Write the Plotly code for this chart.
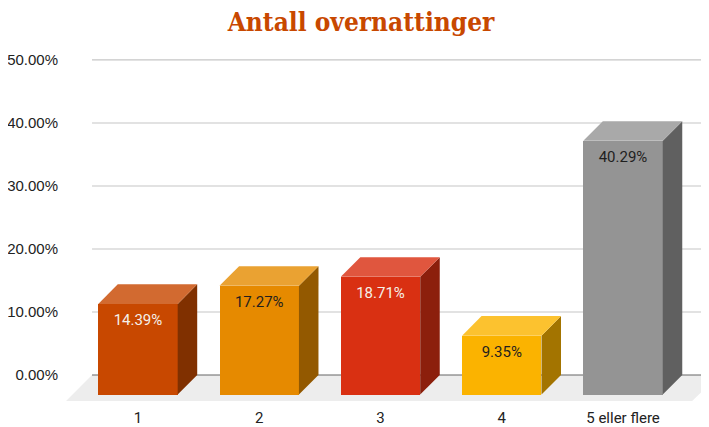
import plotly.graph_objects as go

categories = ["1", "2", "3", "4", "5 eller flere"]
values = [14.39, 17.27, 18.71, 9.35, 40.29]
y_ticks = [0, 10, 20, 30, 40, 50]
y_tick_labels = ["0.00%", "10.00%", "20.00%", "30.00%", "40.00%", "50.00%"]
front_colors = ["#C84800", "#E68A00", "#D93012", "#FBB300", "#949494"]
top_colors = ["#D26A30", "#EAA232", "#E0563E", "#FCC22F", "#A9A9A9"]
side_colors = ["#803000", "#935900", "#8C1F0C", "#A37400", "#606060"]
label_colors = ["#F5F0EA", "#1f1f1f", "#F5F0EA", "#1f1f1f", "#1f1f1f"]

BAR_W = 0.655
DX = 0.161
DY = 3.1
LABEL_DROP = 2.8
FLOOR_DY = 4.13
GRID_X0, GRID_X1 = -0.379, 4.79
FLOOR_LEFT, FLOOR_RIGHT = -0.593, 4.57

positions = list(range(len(categories)))
fig = go.Figure()


def poly(xs, ys, color):
    fig.add_trace(go.Scatter(x=xs, y=ys, mode="lines", fill="toself", fillcolor=color,
                             line=dict(width=0), hoverinfo="skip", showlegend=False))


# floor and gridlines stay below the bars
floor_path = (f"M {GRID_X0} 0 L {GRID_X1} 0 L {FLOOR_RIGHT} {-FLOOR_DY} "
              f"L {FLOOR_LEFT} {-FLOOR_DY} Z")
fig.add_shape(type="path", path=floor_path, layer="below", fillcolor="#EDEDED", line=dict(width=0))
for t in y_ticks:
    fig.add_shape(type="line", x0=GRID_X0, x1=GRID_X1, y0=t, y1=t, layer="below",
                  line=dict(color="#666666" if t == 0 else "#C6C6C6", width=1.2))

# front faces
fig.add_trace(go.Bar(x=positions, y=values, base=[-DY] * len(values), width=BAR_W,
                     marker=dict(color=front_colors, line=dict(width=0)),
                     hoverinfo="skip", showlegend=False))

# side and top faces
for p, v, tc, sc in zip(positions, values, top_colors, side_colors):
    l, r = p - BAR_W / 2, p + BAR_W / 2
    front_top = v - DY
    poly([r, r + DX, r + DX, r, r], [-DY, 0, v, front_top, -DY], sc)
    poly([l, r, r + DX, l + DX, l], [front_top, front_top, v, v, front_top], tc)

# value labels
fig.add_trace(go.Scatter(x=positions, y=[v - DY - LABEL_DROP for v in values], mode="text",
                         text=[f"{v:.2f}%" for v in values], textposition="middle center",
                         textfont=dict(family="Roboto", size=15, color=label_colors),
                         hoverinfo="skip", showlegend=False))

fig.update_layout(
    width=701, height=419,
    margin=dict(l=52, r=0, t=32, b=24),
    paper_bgcolor="white", plot_bgcolor="white",
    bargap=0,
    title=dict(text="<b>Antall overnattinger</b>", x=353 / 701, xanchor="center", y=1 - 14 / 419, yanchor="middle",
               font=dict(family="DejaVu Serif Condensed", size=26, color="#C84800")),
    xaxis=dict(range=[-0.643, 4.709], tickmode="array", tickvals=positions, ticktext=categories,
               showgrid=False, zeroline=False, showline=False, ticks="", ticklabelstandoff=4,
               tickfont=dict(family="Roboto", size=15, color="#222222")),
    yaxis=dict(range=[-4.44, 53.17], tickmode="array", tickvals=y_ticks, ticktext=y_tick_labels,
               showgrid=False, zeroline=False, showline=False, ticks="", ticklabelstandoff=1,
               tickfont=dict(family="Liberation Sans", size=15, color="#222222")),
)
fig.write_html("out.html")
